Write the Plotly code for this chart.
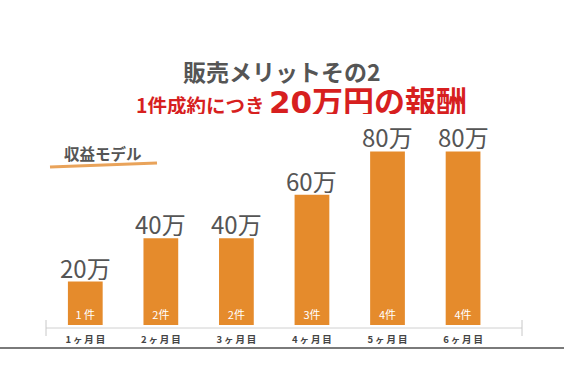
import plotly.graph_objects as go

months = ["1ヶ月目", "2ヶ月目", "3ヶ月目", "4ヶ月目", "5ヶ月目", "6ヶ月目"]
rewards = [20, 40, 40, 60, 80, 80]          # 万円
reward_labels = ["20万", "40万", "40万", "60万", "80万", "80万"]
deals = ["1 件", "2件", "2件", "3件", "4件", "4件"]

W, H = 564, 376
L, R, T, B = 46, 42, 100, 51
PW, PH = W - L - R, H - T - B
FONT = "Noto Sans CJK JP, Noto Sans, sans-serif"
ORANGE = "#E58B2C"
GRAY = "#555555"
RED = "#D71F1F"


def px(x):
    return (x - L) / PW


def py(y):
    return (H - B - y) / PH


xs = list(range(len(months)))
tick_text = ["<b>" + "\u2009".join(m) + "</b>" for m in months]

fig = go.Figure()
fig.add_trace(go.Bar(
    x=xs, y=rewards, width=0.46,
    marker=dict(color=ORANGE, line=dict(width=0)),
    text=deals, textposition="inside", insidetextanchor="start",
    textfont=dict(color="white", size=11, family=FONT),
    hoverinfo="skip",
))

annotations = []
for i, (v, lab) in enumerate(zip(rewards, reward_labels)):
    annotations.append(dict(
        x=i, y=v, xref="x", yref="y", text=lab, showarrow=False,
        yanchor="bottom", yshift=0, height=26, valign="middle",
        font=dict(size=24, color=GRAY, family=FONT),
    ))

annotations += [
    dict(x=px(282), y=py(71), xref="paper", yref="paper", showarrow=False,
         text="<b>販売メリットその2</b>", xanchor="center", yanchor="middle",
         height=26, valign="middle",
         font=dict(size=23, color=GRAY, family=FONT)),
    dict(x=px(301), y=py(99), xref="paper", yref="paper", showarrow=False,
         text="<b>1件成約につき <span style='font-size:31px;font-family:DejaVu Sans'>20</span>"
              "<span style='font-size:31px'>万円の報酬</span></b>",
         xanchor="center", yanchor="middle", height=30, valign="middle",
         font=dict(size=19.5, color=RED, family=FONT)),
    dict(x=px(62), y=py(153), xref="paper", yref="paper", showarrow=False,
         text="<b>収益モデル</b>", xanchor="left", yanchor="middle",
         font=dict(size=15.5, color=GRAY, family=FONT)),
]

shapes = [
    dict(type="line", xref="paper", yref="paper", x0=px(50), y0=py(167), x1=px(157), y1=py(163),
         line=dict(color="#E9A35A", width=3)),
    dict(type="line", xref="paper", yref="paper", x0=0, y0=py(328), x1=1, y1=py(328),
         line=dict(color="#D0D0D0", width=1)),
    dict(type="line", xref="paper", yref="paper", x0=0, y0=py(320), x1=0, y1=py(336),
         line=dict(color="#C8C8C8", width=1)),
    dict(type="line", xref="paper", yref="paper", x0=1, y0=py(320), x1=1, y1=py(336),
         line=dict(color="#C8C8C8", width=1)),
    dict(type="line", xref="paper", yref="paper", x0=px(0), y0=py(348), x1=px(W), y1=py(348),
         line=dict(color="#7A7A7A", width=2)),
]

fig.update_layout(
    width=W, height=H,
    margin=dict(l=L, r=R, t=T, b=B),
    paper_bgcolor="white", plot_bgcolor="white",
    showlegend=False,
    annotations=annotations, shapes=shapes,
    xaxis=dict(range=[-0.52, 5.78], tickvals=xs, ticktext=tick_text,
               showgrid=False, zeroline=False, showline=False,
               ticks="outside", ticklen=6, tickcolor="rgba(0,0,0,0)",
               tickfont=dict(size=9.5, color="#444444", family=FONT)),
    yaxis=dict(range=[0, PH / 2.17], visible=False, showgrid=False, zeroline=False),
    uniformtext=dict(minsize=11, mode="show"),
)

fig.write_html("out.html", config={"displayModeBar": False},
               post_script="document.body.style.margin='0';document.body.style.overflow='hidden';")
